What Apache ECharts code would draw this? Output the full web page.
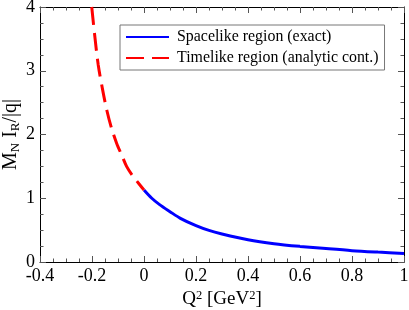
<!DOCTYPE html>
<html><head><meta charset="utf-8">
<script src="https://cdn.jsdelivr.net/npm/echarts@6/dist/echarts.min.js"></script>
<style>html,body{margin:0;padding:0;background:#fff}#c{width:409px;height:310px}</style>
</head><body><div id="c"></div>
<script>
const spacelikeX = [0, 0.03, 0.06, 0.1, 0.14, 0.2, 0.25, 0.3, 0.4, 0.5, 0.6, 0.7, 0.8, 0.9, 1.0];
const spacelikeY = [1.13, 1.0, 0.9, 0.79, 0.685, 0.57, 0.495, 0.44, 0.35, 0.288, 0.245, 0.21, 0.178, 0.155, 0.135];
const timelikeX = [-0.201, -0.19, -0.176, -0.16, -0.143, -0.125, -0.105, -0.085, -0.067, -0.045, -0.018, 0];
const timelikeY = [4.0, 3.57, 3.09, 2.72, 2.38, 2.1, 1.86, 1.67, 1.50, 1.36, 1.22, 1.13];
const seriesNames = ['Spacelike region (exact)', 'Timelike region (analytic cont.)'];
const xTicks = {min: -0.4, max: 1, interval: 0.2};
const yTicks = {min: 0, max: 4, interval: 1};

const font = 'Liberation Serif';
const zip = (xs, ys) => xs.map((x, i) => [x, ys[i]]);
const tickStyle = {show: true, inside: true, length: 6, lineStyle: {color: '#555', width: 1}};
const minorStyle = {show: true, splitNumber: 4, length: 3.5, lineStyle: {color: '#555', width: 1}};
const axisLine = {show: true, onZero: false, lineStyle: {color: '#000', width: 1}};

const chart = echarts.init(document.getElementById('c'), null, {renderer: 'canvas'});
chart.setOption({
  animation: false,
  grid: {left: 40, right: 5, top: 7, bottom: 48, containLabel: false, outerBoundsMode: 'none'},
  legend: {
    left: 120, top: 25, orient: 'vertical',
    padding: [4, 6, 4, 5], itemGap: 5, itemWidth: 43, itemHeight: 14,
    borderColor: '#777', borderWidth: 1, backgroundColor: '#fff',
    itemStyle: {opacity: 0},
    textStyle: {fontFamily: font, fontSize: 15.9, color: '#000', padding: [0, 0, 0, 3]},
    data: seriesNames
  },
  xAxis: [{
    type: 'value', min: xTicks.min, max: xTicks.max, interval: xTicks.interval,
    axisLine, axisTick: tickStyle, minorTick: minorStyle, splitLine: {show: false},
    axisLabel: {fontFamily: font, fontSize: 18, color: '#000', margin: 5,
      formatter: v => String(Math.round(v * 10) / 10)},
    name: 'Q{sup|2} [GeV{sup|2}]', nameLocation: 'middle', nameGap: 27, nameMoveOverlap: false,
    nameTextStyle: {fontFamily: font, fontSize: 19, color: '#000',
      rich: {sup: {fontFamily: font, fontSize: 12.5, verticalAlign: 'top', padding: [0, 0, 8, 0]}}}
  }, {
    type: 'value', position: 'top', min: xTicks.min, max: xTicks.max, interval: xTicks.interval,
    axisLine, axisTick: tickStyle, minorTick: minorStyle, splitLine: {show: false},
    axisLabel: {show: false}
  }],
  yAxis: [{
    type: 'value', min: yTicks.min, max: yTicks.max, interval: yTicks.interval,
    axisLine, axisTick: tickStyle, minorTick: minorStyle, splitLine: {show: false},
    axisLabel: {fontFamily: font, fontSize: 18, color: '#000', margin: 5},
    name: 'M{sub|N} I{sub|R}/|q|', nameLocation: 'middle', nameGap: 18, nameRotate: 90, nameMoveOverlap: false,
    nameTextStyle: {fontFamily: font, fontSize: 20, color: '#000',
      rich: {sub: {fontFamily: font, fontSize: 13, padding: [9, 0, 0, 0]}}}
  }, {
    type: 'value', position: 'right', min: yTicks.min, max: yTicks.max, interval: yTicks.interval,
    axisLine, axisTick: tickStyle, minorTick: minorStyle, splitLine: {show: false},
    axisLabel: {show: false}
  }],
  series: [{
    name: seriesNames[0], type: 'line', smooth: 0.3, symbol: 'none', showSymbol: false,
    data: zip(spacelikeX, spacelikeY),
    lineStyle: {color: '#0000ff', width: 3}, itemStyle: {color: '#0000ff'}
  }, {
    name: seriesNames[1], type: 'line', smooth: 0.3, symbol: 'none', showSymbol: false,
    data: zip(timelikeX, timelikeY),
    lineStyle: {color: '#ff0000', width: 3, type: [18, 8]}, itemStyle: {color: '#ff0000'}
  }]
});
</script></body></html>
